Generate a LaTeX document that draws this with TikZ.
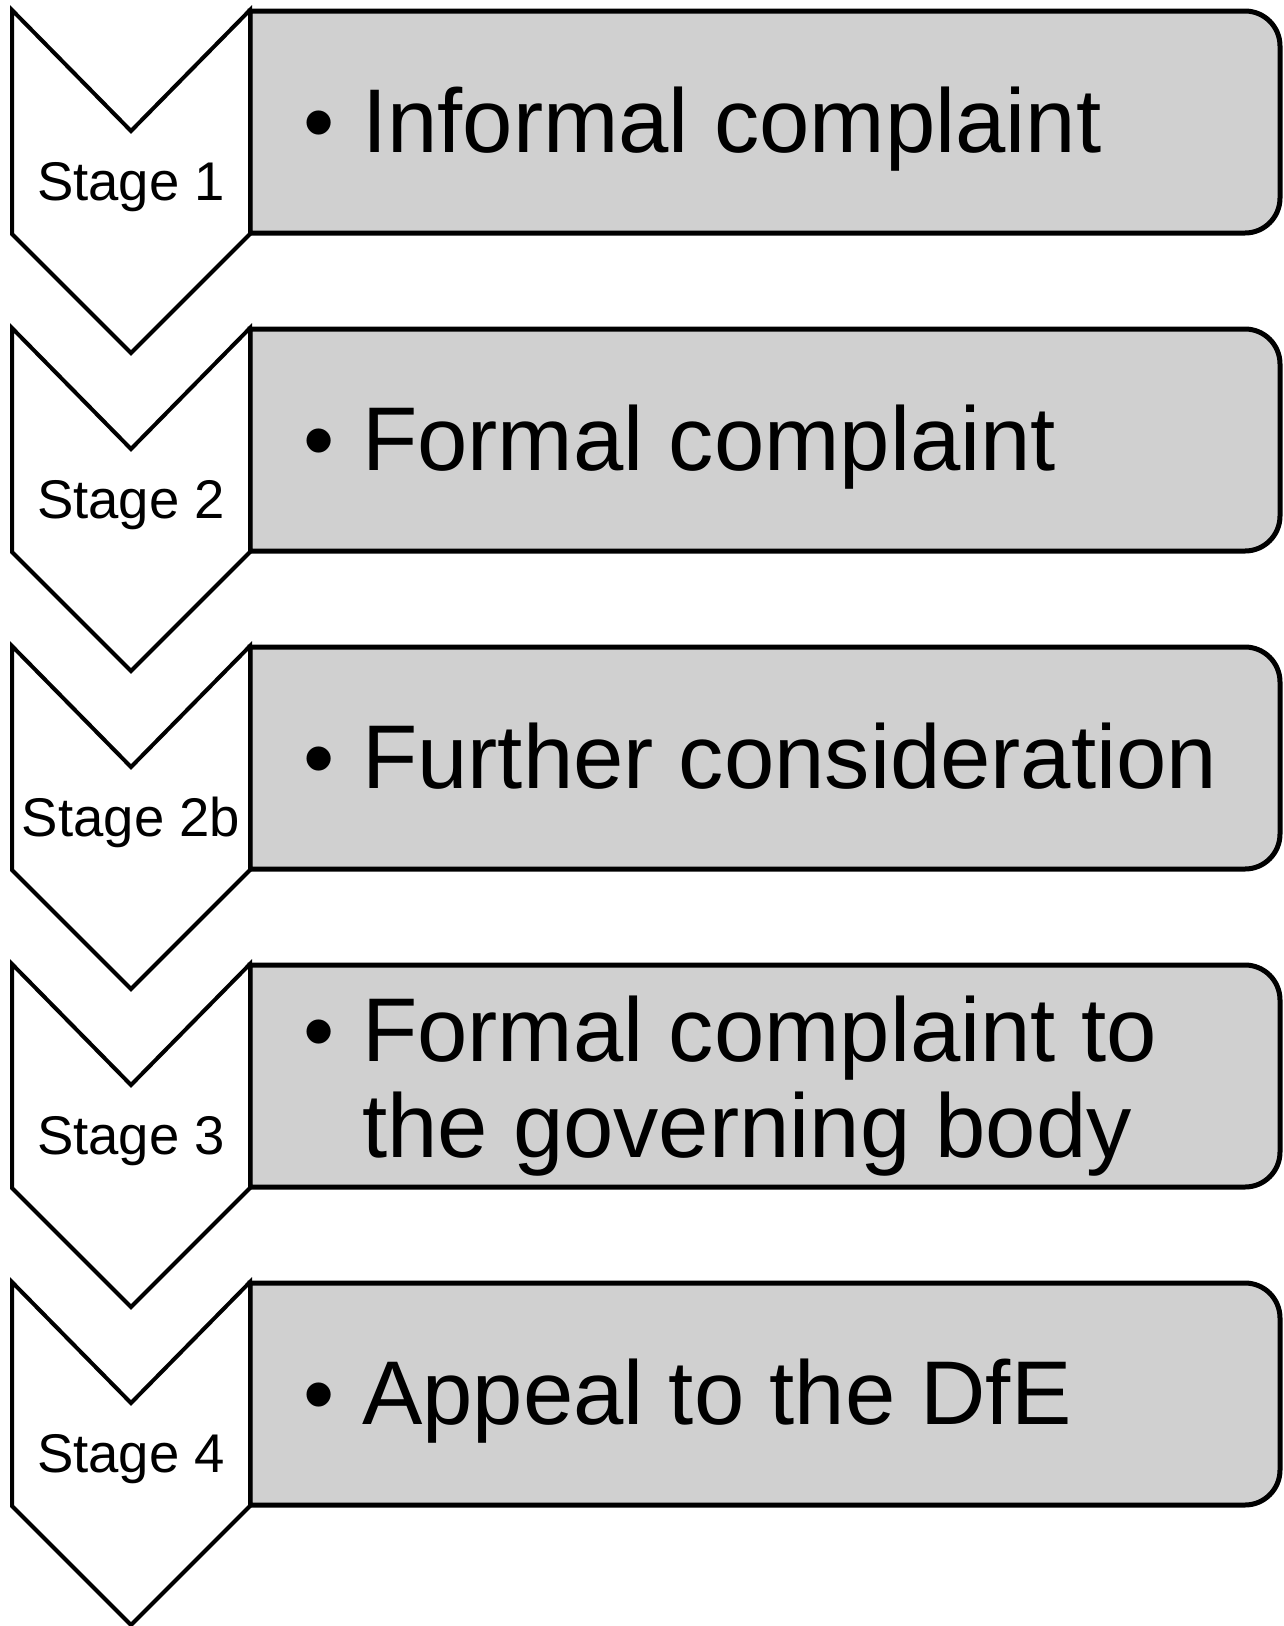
\documentclass[tikz,border=0pt]{standalone}
\usepackage{fontspec}
\setmainfont{Liberation Sans}
\definecolor{boxgray}{RGB}{208,208,208}
\begin{document}
\begin{tikzpicture}[x=1pt,y=-1pt,
  chev/.style={draw=black,fill=white,line width=4pt,line join=miter},
  panel/.style={draw=black,fill=boxgray,line width=5pt},
  stagelbl/.style={inner sep=0pt,anchor=base,font=\fontsize{54.5}{60}\selectfont},
  bigtxt/.style={inner sep=0pt,anchor=base west,font=\fontsize{90.5}{96}\selectfont},
  bul/.style={inner sep=0pt,anchor=base,font=\fontsize{89}{96}\selectfont}]
\useasboundingbox (0,0) rectangle (1284,1626);
\foreach \t in {10,328,646,964,1282}{
  \draw[panel] (250,\t+1) -- (1245,\t+1) arc[start angle=-90,end angle=0,radius=35]
     -- (1280,\t+188) arc[start angle=0,end angle=90,radius=35] -- (250,\t+223) -- cycle;
  \draw[chev] (12,\t) -- (131,\t+121) -- (250,\t) -- (250,\t+224) -- (131,\t+343) -- (12,\t+224) -- cycle;
}
% stage labels
\node[stagelbl] (s1) at (131,200) {Stage 1};
\node[stagelbl] (s2) at (131,518) {Stage 2};
\node[stagelbl] (s2b) at (131,836) {Stage 2b};
\node[stagelbl] (s3) at (131,1154) {Stage 3};
\node[stagelbl] (s4) at (131,1472) {Stage 4};
% bullets
\node[bul] (b1) at (319,152) {•};
\node[bul] (b2) at (319,470) {•};
\node[bul] (b2b) at (319,788) {•};
\node[bul] (b3) at (319,1061) {•};
\node[bul] (b4) at (319,1424) {•};
% panel texts
\node[bigtxt] (t1) at (362,152) {Informal complaint};
\node[bigtxt] (t2) at (362,470) {Formal complaint};
\node[bigtxt] (t2b) at (362,788) {Further consideration};
\node[bigtxt] (t3a) at (362,1061) {Formal complaint to};
\node[bigtxt] (t3b) at (362,1157) {the governing body};
\node[bigtxt] (t4) at (362,1424) {Appeal to the DfE};
\end{tikzpicture}
\end{document}
